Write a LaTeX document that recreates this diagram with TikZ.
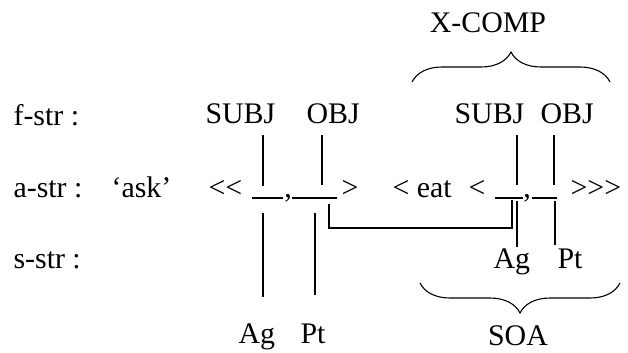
\documentclass[tikz,border=0pt]{standalone}
\usepackage{fontspec}
\setmainfont{Liberation Serif}
\usetikzlibrary{decorations.pathreplacing}

\begin{document}
\begin{tikzpicture}[x=1bp,y=-1bp,line width=1.1pt,
  lbl/.style={anchor=base west,inner sep=0pt,font=\fontsize{30}{36}\selectfont},
  mid/.style={anchor=base,inner sep=0pt,font=\fontsize{30}{36}\selectfont},
  curly/.style={decorate,decoration={brace,amplitude=30bp}}]
 \useasboundingbox (0,0) rectangle (628,352);
 % row labels
 \node[lbl] (fstr) at (13,125) {f-str :};
 \node[lbl] (astr) at (13,197) {a-str :};
 \node[lbl] (ask) at (111,197) {‘ask’};
 \node[lbl] (sstr) at (13,268) {s-str :};
 % f-structure
 \node[mid] (xcomp) at (488,32) {X-COMP};
 \node[lbl] (subjA) at (205,123) {SUBJ};
 \node[lbl] (objA) at (306,123) {OBJ};
 \node[lbl] (subjB) at (454,123) {SUBJ};
 \node[lbl] (objB) at (540,123) {OBJ};
 \draw[curly] (412,82) coordinate (xl) -- (610,82) coordinate (xr);
 % a-structure
 \node[lbl] (openA) at (208,197) {<{}<};
 \node[mid] (commaA) at (288,197) {,};
 \node[lbl] (closeA) at (341,197) {>};
 \node[lbl] (eat) at (392,197) {< eat};
 \node[lbl] (openB) at (468,197) {<};
 \node[mid] (commaB) at (527,197) {,};
 \node[lbl] (closeB) at (570,197) {>{}>{}>};
 \coordinate (slotA1l) at (252,198); \coordinate (slotA1r) at (283,198);
 \coordinate (slotA2l) at (292,198); \coordinate (slotA2r) at (337,198);
 \coordinate (slotB1l) at (495,198); \coordinate (slotB1r) at (523,198);
 \coordinate (slotB2l) at (532,198); \coordinate (slotB2r) at (557,198);
 \draw (slotA1l) -- (slotA1r);
 \draw (slotA2l) -- (slotA2r);
 \draw (slotB1l) -- (slotB1r);
 \draw (slotB2l) -- (slotB2r);
 % s-structure
 \node[lbl] (agB) at (493,268) {Ag};
 \node[lbl] (ptB) at (557,268) {Pt};
 \node[lbl] (agA) at (238,343) {Ag};
 \node[lbl] (ptA) at (300,343) {Pt};
 \node[mid] (soa) at (518,345) {SOA};
 \draw[curly] (620,283) coordinate (sr) -- (420,283) coordinate (sl);
 % links f-str to a-str
 \coordinate (fA1) at (263,135); \coordinate (aA1) at (263,186);
 \coordinate (fA2) at (322,135); \coordinate (aA2) at (322,185);
 \coordinate (fB1) at (517,135); \coordinate (aB1) at (517,185);
 \coordinate (fB2) at (554,135); \coordinate (aB2) at (554,185);
 \draw (fA1) -- (aA1);
 \draw (fA2) -- (aA2);
 \draw (fB1) -- (aB1);
 \draw (fB2) -- (aB2);
 % links a-str to s-str
 \coordinate (bA1) at (263,213); \coordinate (sA1) at (263,297);
 \coordinate (bA2) at (315,213); \coordinate (sA2) at (315,295);
 \coordinate (bB1) at (517,201); \coordinate (sB1) at (517,247);
 \coordinate (bB2) at (555,201); \coordinate (sB2) at (555,245);
 \draw (bA1) -- (sA1);
 \draw (bA2) -- (sA2);
 \draw (bB1) -- (sB1);
 \draw (bB2) -- (sB2);
 % control: matrix OBJ to embedded SUBJ
 \coordinate (ctlA) at (329,204); \coordinate (ctlB) at (512,200);
 \draw (ctlA) |- (512,228) -- (ctlB);
\end{tikzpicture}
\end{document}
